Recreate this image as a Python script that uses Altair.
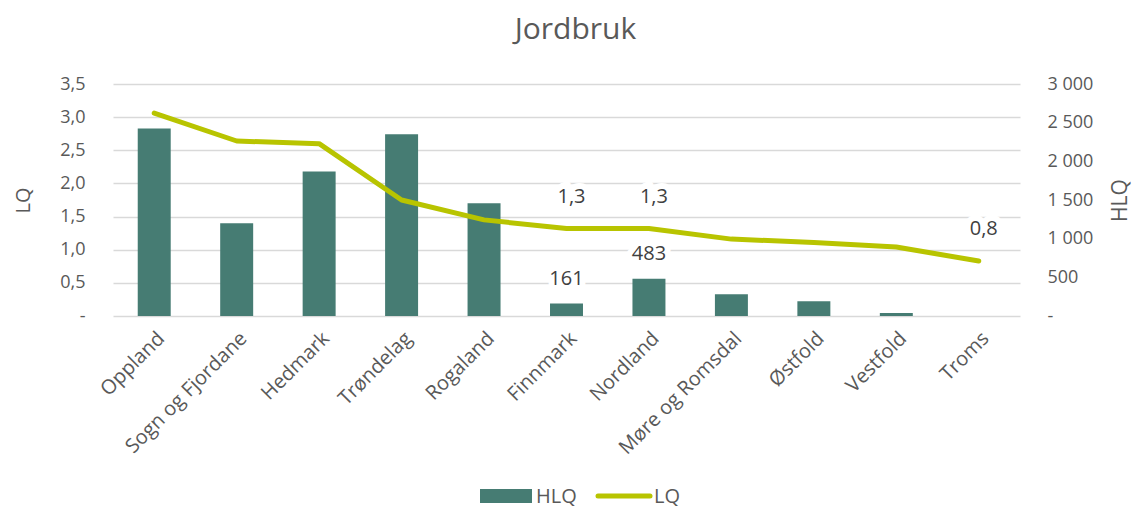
import altair as alt
import pandas as pd

regions = ["Oppland", "Sogn og Fjordane", "Hedmark", "Trøndelag", "Rogaland",
           "Finnmark", "Nordland", "Møre og Romsdal", "Østfold", "Vestfold", "Troms"]
hlq = [2423, 1199, 1867, 2350, 1458, 161, 483, 281, 190, 39, 0]
lq = [3.06, 2.64, 2.60, 1.75, 1.45, 1.32, 1.32, 1.16, 1.11, 1.04, 0.83]
hlq_labelled = ["Finnmark", "Nordland"]
lq_labelled = ["Finnmark", "Nordland", "Troms"]
legend_names = ["HLQ", "LQ"]

BAR = "#467C73"
LINE = "#B8C400"
TXT = "#595959"
LAB = "#404040"
GRID = "#D9D9D9"
FONT = "Open Sans"

df = pd.DataFrame({"region": regions, "hlq": hlq, "lq": lq})

xenc = alt.X("region:N", sort=regions,
             scale=alt.Scale(paddingInner=0.6, paddingOuter=0.3),
             axis=alt.Axis(title=None, labelAngle=-45, labelFontSize=20,
                           labelColor=TXT, labelFont=FONT, ticks=False,
                           domain=False, labelPadding=12, labelOverlap=False))

base = alt.Chart(df).encode(x=xenc)

axis_h = alt.Axis(orient="right", title="HLQ", titleAngle=-90,
                  titleFontSize=21, titleFontWeight="normal",
                  titleColor=TXT, titleFont=FONT, titlePadding=38,
                  values=[0, 500, 1000, 1500, 2000, 2500, 3000],
                  labelExpr="datum.value == 0 ? '-' : replace(format(datum.value, ','), ',', ' ')",
                  labelFontSize=18, labelColor=TXT, labelFont=FONT,
                  labelPadding=27, ticks=False, domain=False, grid=False,
                  labelOverlap=False, labelFlush=False)
axis_l = alt.Axis(orient="left", title="LQ", titleFontSize=20,
                  titleFontWeight="normal", titleColor=TXT, titleFont=FONT,
                  titlePadding=26,
                  values=[0, 0.5, 1, 1.5, 2, 2.5, 3, 3.5],
                  labelExpr="datum.value == 0 ? '-' : replace(format(datum.value, '.1f'), '.', ',')",
                  labelFontSize=18, labelColor=TXT, labelFont=FONT,
                  labelPadding=28, ticks=False, domain=False,
                  labelOverlap=False, labelFlush=False,
                  grid=True, gridColor=GRID, gridWidth=1.3)

yh = alt.Y("hlq:Q", scale=alt.Scale(domain=[0, 3000], nice=False), axis=axis_h)
yl = alt.Y("lq:Q", scale=alt.Scale(domain=[0, 3.5], nice=False), axis=axis_l)

bars = base.mark_bar(color=BAR).encode(y=yh)
hlq_filter = alt.FieldOneOfPredicate(field="region", oneOf=hlq_labelled)
hlq_halo = base.mark_text(fontSize=20, font=FONT, dy=-25, baseline="middle",
                          stroke="white", strokeWidth=12, color="white").encode(
    y=yh, text=alt.Text("hlq:Q")).transform_filter(hlq_filter)
hlq_text = base.mark_text(fontSize=20, font=FONT, dy=-25, color=LAB,
                          baseline="middle").encode(
    y=yh, text=alt.Text("hlq:Q")).transform_filter(hlq_filter)

line = base.mark_line(color=LINE, strokeWidth=5, strokeCap="round",
                      strokeJoin="round").encode(y=yl)
lq_fmt = "replace(format(datum.lq, '.1f'), '.', ',')"
lq_filter = alt.FieldOneOfPredicate(field="region", oneOf=lq_labelled)
lq_halo = base.mark_text(fontSize=20, font=FONT, dy=-32, dx=5, baseline="middle",
                         stroke="white", strokeWidth=12, color="white").encode(
    y=yl, text=alt.Text("lqlab:N")
).transform_filter(lq_filter).transform_calculate(lqlab=lq_fmt)
lq_text = base.mark_text(fontSize=20, font=FONT, dy=-32, dx=5, color=LAB,
                         baseline="middle").encode(
    y=yl, text=alt.Text("lqlab:N")
).transform_filter(lq_filter).transform_calculate(lqlab=lq_fmt)

left = alt.layer(bars, hlq_halo, hlq_text)
right = alt.layer(line, lq_halo, lq_text)

ldf = pd.DataFrame({"name": legend_names})
LY = 412
leg_rect = alt.Chart(ldf).transform_filter(alt.datum.name == "HLQ").mark_rect(color=BAR).encode(
    x=alt.value(367), x2=alt.value(419), y=alt.value(LY - 7), y2=alt.value(LY + 7))
leg_line = alt.Chart(ldf).transform_filter(alt.datum.name == "LQ").mark_rule(
    color=LINE, strokeWidth=5, strokeCap="round").encode(
    x=alt.value(485), x2=alt.value(537), y=alt.value(LY))
leg_t1 = alt.Chart(ldf).transform_filter(alt.datum.name == "HLQ").mark_text(
    fontSize=20, font=FONT, color=TXT, align="left", baseline="middle").encode(
    x=alt.value(423), y=alt.value(LY + 1), text="name:N")
leg_t2 = alt.Chart(ldf).transform_filter(alt.datum.name == "LQ").mark_text(
    fontSize=20, font=FONT, color=TXT, align="left", baseline="middle").encode(
    x=alt.value(541), y=alt.value(LY + 1), text="name:N")

chart = alt.layer(left, right, leg_rect, leg_line, leg_t1, leg_t2).resolve_scale(
    y="independent"
).properties(
    width=907, height=232,
    title=alt.TitleParams("Jordbruk", fontSize=30, color=TXT, font=FONT,
                          fontWeight="normal", anchor="middle", offset=30, dx=9),
    autosize=alt.AutoSizeParams(type="none"),
    padding={"left": 105, "top": 76, "right": 116, "bottom": 195},
).configure_view(stroke=None)

chart.save("out.html", embed_options={"renderer": "svg", "actions": False})
